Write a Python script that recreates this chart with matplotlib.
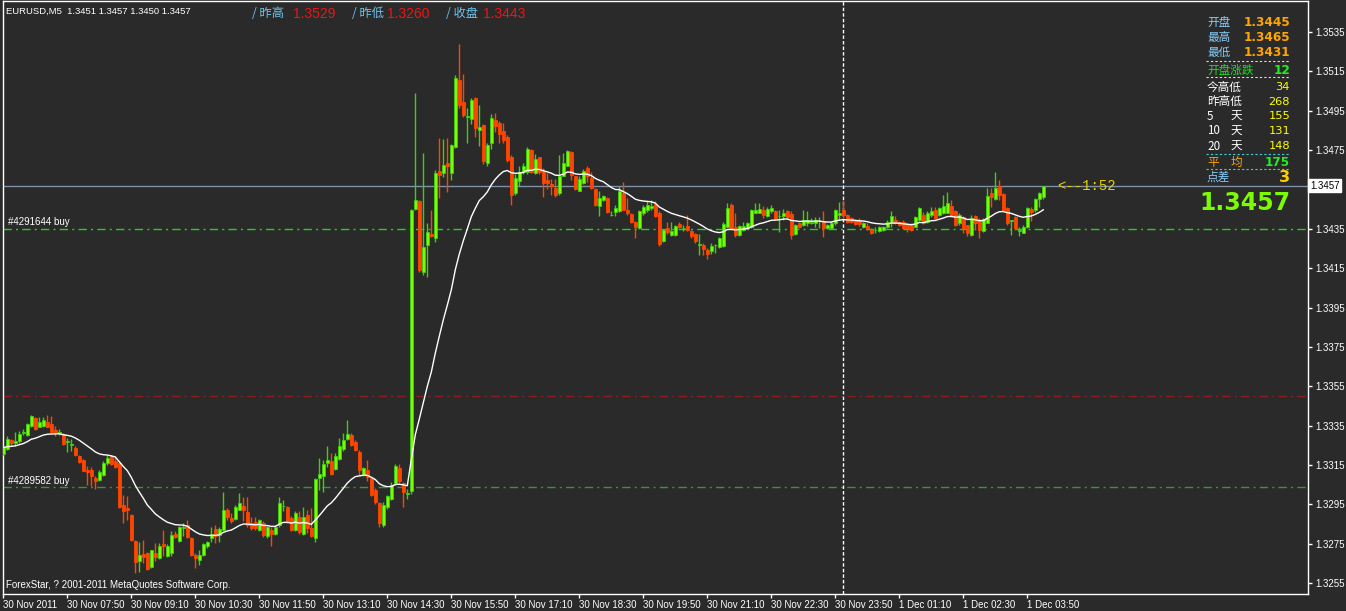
import numpy as np
import pandas as pd
import matplotlib
matplotlib.use('Agg')
import matplotlib.pyplot as plt
from matplotlib.lines import Line2D
from matplotlib.transforms import blended_transform_factory

# EURUSD M5 bars, 30 Nov 2011 06:30 .. 1 Dec 2011 04:10
opens = [
    1.33207, 1.33230, 1.33275, 1.33260, 1.33270, 1.33310, 1.33303, 1.33346, 1.33390, 1.33345,
    1.33349, 1.33369, 1.33359, 1.33329, 1.33313, 1.33307, 1.33268, 1.33253, 1.33236, 1.33197,
    1.33176, 1.33125, 1.33122, 1.33083, 1.33075, 1.33100, 1.33160, 1.33197, 1.33168, 1.33159,
    1.32948, 1.32930, 1.32897, 1.32762, 1.32660, 1.32699, 1.32702, 1.32631, 1.32705, 1.32677,
    1.32749, 1.32685, 1.32702, 1.32800, 1.32766, 1.32832, 1.32846, 1.32778, 1.32694, 1.32665,
    1.32694, 1.32736, 1.32778, 1.32826, 1.32795, 1.32817, 1.32922, 1.32883, 1.32875, 1.32922,
    1.32939, 1.32909, 1.32854, 1.32858, 1.32821, 1.32854, 1.32787, 1.32817, 1.32800, 1.32846,
    1.32941, 1.32936, 1.32880, 1.32817, 1.32888, 1.32800, 1.32897, 1.32829, 1.32778, 1.33083,
    1.33095, 1.33159, 1.33168, 1.33129, 1.33180, 1.33230, 1.33281, 1.33303, 1.33269, 1.33218,
    1.33100, 1.33125, 1.33083, 1.33024, 1.32959, 1.32846, 1.32936, 1.32976, 1.33058, 1.33134,
    1.33058, 1.33002, 1.33020, 1.34450, 1.34489, 1.34132, 1.34268, 1.34324, 1.34302, 1.34644,
    1.34633, 1.34684, 1.34634, 1.34765, 1.35107, 1.34996, 1.34918, 1.34907, 1.35014, 1.34852,
    1.34878, 1.34683, 1.34785, 1.34903, 1.34890, 1.34849, 1.34819, 1.34717, 1.34531, 1.34595,
    1.34641, 1.34641, 1.34748, 1.34633, 1.34714, 1.34645, 1.34599, 1.34579, 1.34557, 1.34531,
    1.34619, 1.34670, 1.34738, 1.34616, 1.34543, 1.34582, 1.34658, 1.34607, 1.34552, 1.34464,
    1.34494, 1.34509, 1.34420, 1.34433, 1.34438, 1.34531, 1.34447, 1.34426, 1.34387, 1.34354,
    1.34430, 1.34447, 1.34455, 1.34477, 1.34430, 1.34286, 1.34354, 1.34320, 1.34320, 1.34376,
    1.34353, 1.34362, 1.34337, 1.34325, 1.34270, 1.34269, 1.34240, 1.34235, 1.34269, 1.34256,
    1.34263, 1.34361, 1.34471, 1.34360, 1.34319, 1.34344, 1.34353, 1.34361, 1.34432, 1.34432,
    1.34443, 1.34416, 1.34438, 1.34438, 1.34414, 1.34416, 1.34438, 1.34426, 1.34324, 1.34378,
    1.34370, 1.34378, 1.34378, 1.34378, 1.34389, 1.34392, 1.34353, 1.34353, 1.34378, 1.34421,
    1.34446, 1.34421, 1.34404, 1.34395, 1.34390, 1.34361, 1.34366, 1.34344, 1.34342, 1.34341,
    1.34344, 1.34361, 1.34387, 1.34395, 1.34387, 1.34387, 1.34375, 1.34370, 1.34361, 1.34395,
    1.34421, 1.34387, 1.34421, 1.34446, 1.34421, 1.34429, 1.34432, 1.34466, 1.34438, 1.34378,
    1.34412, 1.34370, 1.34319, 1.34416, 1.34395, 1.34341, 1.34382, 1.34531, 1.34500, 1.34568,
    1.34527, 1.34455, 1.34391, 1.34409, 1.34340, 1.34331, 1.34361, 1.34450, 1.34446, 1.34500,
    1.34510,
]
highs = [
    1.33244, 1.33295, 1.33281, 1.33320, 1.33325, 1.33332, 1.33362, 1.33405, 1.33396, 1.33393,
    1.33393, 1.33405, 1.33400, 1.33346, 1.33332, 1.33312, 1.33285, 1.33280, 1.33244, 1.33202,
    1.33180, 1.33146, 1.33142, 1.33092, 1.33122, 1.33168, 1.33202, 1.33202, 1.33193, 1.33168,
    1.32998, 1.32990, 1.32902, 1.32770, 1.32760, 1.32770, 1.32710, 1.32720, 1.32753, 1.32753,
    1.32817, 1.32750, 1.32812, 1.32812, 1.32840, 1.32854, 1.32868, 1.32783, 1.32702, 1.32719,
    1.32753, 1.32766, 1.32837, 1.32846, 1.32837, 1.33015, 1.32930, 1.32905, 1.32947, 1.33007,
    1.32986, 1.32986, 1.32885, 1.32885, 1.32875, 1.32863, 1.32841, 1.32837, 1.32846, 1.32986,
    1.32970, 1.32942, 1.32892, 1.32914, 1.32914, 1.32936, 1.32922, 1.32931, 1.33083, 1.33185,
    1.33176, 1.33244, 1.33210, 1.33210, 1.33286, 1.33311, 1.33379, 1.33311, 1.33278, 1.33227,
    1.33142, 1.33176, 1.33091, 1.33032, 1.32964, 1.32964, 1.32998, 1.33061, 1.33156, 1.33156,
    1.33061, 1.33027, 1.34450, 1.35041, 1.34497, 1.34736, 1.34380, 1.34446, 1.34650, 1.34812,
    1.34807, 1.34810, 1.34780, 1.35133, 1.35290, 1.35137, 1.34964, 1.35016, 1.35022, 1.34980,
    1.34880, 1.34785, 1.34934, 1.34937, 1.34897, 1.34890, 1.34828, 1.34726, 1.34626, 1.34667,
    1.34683, 1.34765, 1.34755, 1.34731, 1.34717, 1.34660, 1.34632, 1.34602, 1.34602, 1.34726,
    1.34734, 1.34751, 1.34743, 1.34620, 1.34616, 1.34653, 1.34670, 1.34641, 1.34557, 1.34540,
    1.34523, 1.34514, 1.34438, 1.34472, 1.34565, 1.34590, 1.34506, 1.34430, 1.34392, 1.34447,
    1.34472, 1.34489, 1.34494, 1.34489, 1.34438, 1.34348, 1.34387, 1.34387, 1.34370, 1.34387,
    1.34370, 1.34421, 1.34345, 1.34328, 1.34325, 1.34277, 1.34252, 1.34277, 1.34272, 1.34310,
    1.34387, 1.34480, 1.34480, 1.34430, 1.34370, 1.34387, 1.34385, 1.34450, 1.34483, 1.34483,
    1.34466, 1.34460, 1.34471, 1.34443, 1.34446, 1.34450, 1.34446, 1.34438, 1.34375, 1.34385,
    1.34446, 1.34438, 1.34405, 1.34412, 1.34412, 1.34438, 1.34375, 1.34390, 1.34449, 1.34488,
    1.34497, 1.34425, 1.34410, 1.34400, 1.34404, 1.34387, 1.34378, 1.34353, 1.34361, 1.34365,
    1.34365, 1.34395, 1.34438, 1.34416, 1.34392, 1.34395, 1.34380, 1.34378, 1.34416, 1.34463,
    1.34435, 1.34438, 1.34463, 1.34463, 1.34463, 1.34522, 1.34539, 1.34497, 1.34446, 1.34429,
    1.34416, 1.34370, 1.34421, 1.34421, 1.34404, 1.34404, 1.34556, 1.34556, 1.34641, 1.34598,
    1.34531, 1.34463, 1.34395, 1.34416, 1.34361, 1.34370, 1.34463, 1.34460, 1.34505, 1.34539,
    1.34570,
]
lows = [
    1.33202, 1.33224, 1.33244, 1.33244, 1.33260, 1.33303, 1.33298, 1.33342, 1.33329, 1.33342,
    1.33345, 1.33342, 1.33315, 1.33295, 1.33303, 1.33252, 1.33215, 1.33220, 1.33197, 1.33160,
    1.33117, 1.33049, 1.33044, 1.33027, 1.33066, 1.33095, 1.33150, 1.33151, 1.33134, 1.32931,
    1.32855, 1.32872, 1.32762, 1.32600, 1.32605, 1.32650, 1.32617, 1.32626, 1.32660, 1.32672,
    1.32685, 1.32680, 1.32685, 1.32778, 1.32760, 1.32787, 1.32778, 1.32689, 1.32626, 1.32643,
    1.32685, 1.32730, 1.32756, 1.32753, 1.32761, 1.32812, 1.32871, 1.32854, 1.32871, 1.32919,
    1.32863, 1.32837, 1.32821, 1.32821, 1.32815, 1.32783, 1.32778, 1.32736, 1.32795, 1.32837,
    1.32914, 1.32854, 1.32812, 1.32812, 1.32800, 1.32795, 1.32804, 1.32783, 1.32761, 1.33024,
    1.33015, 1.33142, 1.33100, 1.33122, 1.33173, 1.33220, 1.33278, 1.33247, 1.33222, 1.33100,
    1.33095, 1.33066, 1.32990, 1.32953, 1.32834, 1.32834, 1.32925, 1.32970, 1.33049, 1.33058,
    1.32936, 1.32976, 1.33000, 1.34445, 1.34130, 1.34115, 1.34107, 1.34308, 1.34285, 1.34505,
    1.34614, 1.34538, 1.34600, 1.34760, 1.34964, 1.34920, 1.34785, 1.34885, 1.34816, 1.34771,
    1.34680, 1.34670, 1.34758, 1.34844, 1.34785, 1.34785, 1.34690, 1.34472, 1.34522, 1.34565,
    1.34629, 1.34626, 1.34632, 1.34626, 1.34630, 1.34514, 1.34550, 1.34523, 1.34514, 1.34523,
    1.34616, 1.34667, 1.34599, 1.34548, 1.34540, 1.34579, 1.34590, 1.34552, 1.34464, 1.34416,
    1.34489, 1.34430, 1.34413, 1.34413, 1.34433, 1.34443, 1.34421, 1.34382, 1.34303, 1.34348,
    1.34421, 1.34433, 1.34447, 1.34409, 1.34264, 1.34281, 1.34325, 1.34315, 1.34315, 1.34354,
    1.34337, 1.34337, 1.34303, 1.34277, 1.34218, 1.34218, 1.34196, 1.34223, 1.34227, 1.34250,
    1.34256, 1.34358, 1.34344, 1.34310, 1.34315, 1.34340, 1.34348, 1.34355, 1.34429, 1.34429,
    1.34404, 1.34410, 1.34429, 1.34395, 1.34336, 1.34395, 1.34404, 1.34299, 1.34320, 1.34356,
    1.34366, 1.34365, 1.34372, 1.34361, 1.34353, 1.34307, 1.34348, 1.34348, 1.34370, 1.34395,
    1.34404, 1.34382, 1.34378, 1.34368, 1.34365, 1.34353, 1.34344, 1.34324, 1.34331, 1.34336,
    1.34338, 1.34355, 1.34361, 1.34372, 1.34365, 1.34348, 1.34336, 1.34338, 1.34358, 1.34392,
    1.34372, 1.34382, 1.34412, 1.34399, 1.34416, 1.34426, 1.34429, 1.34412, 1.34365, 1.34370,
    1.34331, 1.34311, 1.34314, 1.34344, 1.34302, 1.34336, 1.34378, 1.34463, 1.34497, 1.34497,
    1.34438, 1.34370, 1.34319, 1.34344, 1.34311, 1.34328, 1.34353, 1.34392, 1.34433, 1.34463,
    1.34500,
]
closes = [
    1.33239, 1.33280, 1.33261, 1.33270, 1.33308, 1.33315, 1.33359, 1.33400, 1.33332, 1.33369,
    1.33379, 1.33345, 1.33320, 1.33312, 1.33317, 1.33256, 1.33271, 1.33256, 1.33202, 1.33163,
    1.33120, 1.33112, 1.33095, 1.33066, 1.33114, 1.33160, 1.33185, 1.33156, 1.33139, 1.32936,
    1.32914, 1.32919, 1.32767, 1.32655, 1.32690, 1.32682, 1.32621, 1.32716, 1.32682, 1.32739,
    1.32736, 1.32739, 1.32795, 1.32783, 1.32834, 1.32835, 1.32783, 1.32694, 1.32677, 1.32694,
    1.32749, 1.32761, 1.32800, 1.32790, 1.32824, 1.32922, 1.32885, 1.32863, 1.32936, 1.32956,
    1.32922, 1.32846, 1.32829, 1.32829, 1.32868, 1.32795, 1.32834, 1.32800, 1.32837, 1.32956,
    1.32944, 1.32858, 1.32821, 1.32905, 1.32807, 1.32885, 1.32829, 1.32787, 1.33078, 1.33105,
    1.33156, 1.33176, 1.33105, 1.33196, 1.33247, 1.33278, 1.33308, 1.33252, 1.33227, 1.33125,
    1.33134, 1.33091, 1.32998, 1.32964, 1.32854, 1.32947, 1.32993, 1.33049, 1.33146, 1.33066,
    1.33015, 1.33005, 1.34446, 1.34497, 1.34141, 1.34257, 1.34336, 1.34312, 1.34633, 1.34624,
    1.34675, 1.34669, 1.34776, 1.35115, 1.34980, 1.34929, 1.34921, 1.35002, 1.34861, 1.34869,
    1.34692, 1.34776, 1.34912, 1.34873, 1.34832, 1.34802, 1.34700, 1.34522, 1.34609, 1.34641,
    1.34670, 1.34755, 1.34641, 1.34704, 1.34641, 1.34585, 1.34585, 1.34569, 1.34523, 1.34616,
    1.34684, 1.34743, 1.34624, 1.34552, 1.34602, 1.34646, 1.34616, 1.34557, 1.34472, 1.34506,
    1.34518, 1.34433, 1.34422, 1.34455, 1.34540, 1.34447, 1.34430, 1.34387, 1.34359, 1.34438,
    1.34460, 1.34472, 1.34467, 1.34416, 1.34274, 1.34345, 1.34332, 1.34337, 1.34362, 1.34359,
    1.34356, 1.34342, 1.34311, 1.34286, 1.34273, 1.34247, 1.34223, 1.34261, 1.34270, 1.34302,
    1.34375, 1.34455, 1.34353, 1.34320, 1.34365, 1.34365, 1.34378, 1.34446, 1.34446, 1.34449,
    1.34421, 1.34450, 1.34455, 1.34399, 1.34416, 1.34429, 1.34409, 1.34319, 1.34370, 1.34361,
    1.34395, 1.34395, 1.34387, 1.34395, 1.34391, 1.34353, 1.34370, 1.34382, 1.34446, 1.34430,
    1.34421, 1.34387, 1.34383, 1.34375, 1.34373, 1.34378, 1.34356, 1.34328, 1.34345, 1.34358,
    1.34358, 1.34387, 1.34416, 1.34378, 1.34370, 1.34353, 1.34353, 1.34344, 1.34409, 1.34455,
    1.34378, 1.34429, 1.34438, 1.34404, 1.34455, 1.34466, 1.34483, 1.34421, 1.34370, 1.34421,
    1.34353, 1.34328, 1.34404, 1.34378, 1.34344, 1.34399, 1.34517, 1.34514, 1.34556, 1.34522,
    1.34446, 1.34378, 1.34393, 1.34353, 1.34342, 1.34361, 1.34455, 1.34436, 1.34500, 1.34531,
    1.34570,
]

ma_period = 20
bid = 1.3457
day_start_bar = 210  # 1 Dec 00:00
order_lines = [('#4291644 buy', 1.3435, '#1ed21e'), ('#4289582 buy', 1.3304, '#3f8f3f')]
stop_level = 1.3350

tick_bars = [0, 16, 32, 48, 64, 80, 96, 112, 128, 144, 160, 176, 192, 208, 224, 240, 256]
tick_labels = ['30 Nov 2011', '30 Nov 07:50', '30 Nov 09:10', '30 Nov 10:30', '30 Nov 11:50',
               '30 Nov 13:10', '30 Nov 14:30', '30 Nov 15:50', '30 Nov 17:10', '30 Nov 18:30',
               '30 Nov 19:50', '30 Nov 21:10', '30 Nov 22:30', '30 Nov 23:50', '1 Dec 01:10',
               '1 Dec 02:30', '1 Dec 03:50']
price_ticks = np.round(np.arange(1.3255, 1.35351, 0.002), 4)

header_items = [('/ 昨高', '1.3529'), ('/ 昨低', '1.3260'), ('/ 收盘', '1.3443')]
day_items = [('开盘', '1.3445'), ('最高', '1.3465'), ('最低', '1.3431')]
open_change = ('开盘涨跌', '12')
range_items = [('今高低', '', '34'), ('昨高低', '', '268'), ('5', '天', '155'),
               ('10', '天', '131'), ('20', '天', '148')]
avg_item = ('平', '均', '175')
spread_item = ('点差', '3')

BG = '#2a2a2a'
BULL_FILL = '#7cfc00'
BULL_LINE = '#3ccf14'
BEAR = '#ff4500'
W, H = 1346, 611
CJK = ['Noto Sans CJK SC', 'DejaVu Sans']
plt.rcParams['font.family'] = ['Liberation Sans', 'DejaVu Sans']

o = np.array(opens); h = np.array(highs); l = np.array(lows); c = np.array(closes)
idx = np.arange(len(c))
up = c >= o
ma = pd.Series(c).ewm(span=ma_period, adjust=False).mean()

fig = plt.figure(figsize=(W / 100, H / 100), dpi=100, facecolor=BG)
ax = fig.add_axes([2.5 / W, (H - 594) / H, (1308 - 2.5) / W, (594 - 1) / H], facecolor=BG)

# wicks and bodies
ax.vlines(idx, l, h, colors=np.where(up, BULL_LINE, BEAR), linewidth=1, zorder=3)
ax.bar(idx, np.maximum(np.abs(c - o), 0.00001), bottom=np.minimum(o, c), width=0.72,
       color=np.where(up, BULL_FILL, BEAR), edgecolor=np.where(up, BULL_LINE, BEAR),
       linewidth=0.6, zorder=4)
ax.plot(idx, ma, color='white', linewidth=1, zorder=5)

ax.axhline(bid, color='#7f90a8', linewidth=1, zorder=2)
for name, lvl, col in order_lines:
    ax.axhline(lvl, color=col, linewidth=1, linestyle=(0, (6, 3, 1.5, 3)), zorder=2)
ax.axhline(stop_level, color='#8e1c1c', linewidth=1, linestyle=(0, (6, 3, 1.5, 3)), zorder=2)
ax.axvline(day_start_bar, color='white', linewidth=1, linestyle=(0, (2.5, 1.5)), zorder=2)

# pixel layout of the MT4 window
ax.set_xlim((2.5 - 3.3) / 4, (1308 - 3.3) / 4)
ax.set_ylim(1.3535 - (594 - 32) / 19680, 1.3535 + (32 - 1) / 19680)

for s in ax.spines.values():
    s.set_color('white')
    s.set_linewidth(1)
ax.yaxis.tick_right()
ax.set_yticks(price_ticks)
# the bid price box covers the 1.3455 label
ax.set_yticklabels(['' if abs(p - bid) < 0.0005 else f'{p:.4f}' for p in price_ticks])
ax.set_xticks(tick_bars)
ax.set_xticklabels(tick_labels)
for lab in ax.get_xticklabels():
    lab.set_ha('left')
ax.tick_params(axis='both', colors='white', direction='out', length=3, width=1, labelsize=7)
ax.tick_params(axis='x', pad=1.5)
ax.tick_params(axis='y', pad=2)

tr = blended_transform_factory(ax.transAxes, ax.transData)
ax.text(1.0015, bid, f'{bid:.4f}', transform=tr, ha='left', va='center', fontsize=7, color='black',
        bbox=dict(boxstyle='square,pad=0.18', fc='white', ec='white'), clip_on=False, zorder=10)
ax.text(263.4, bid, '<--1:52', ha='left', va='center', fontsize=10, color='#e8d400',
        family='Liberation Mono', zorder=6)


def ftext(x, y, s, **kw):
    fig.text(x / W, 1 - y / H, s, va='center', **kw)


ftext(6, 11, 'EURUSD,M5  1.3451 1.3457 1.3450 1.3457', color='white', fontsize=6.8)
for (lab, val), (xl, xv) in zip(header_items, [(252, 293), (352, 387), (446, 483)]):
    ftext(xl, 13.5, lab, color='#70c4ec', fontsize=8.8, family=CJK)
    ftext(xv, 13.5, val, color='#f01414', fontsize=10)

for (name, lvl, col), y in zip(order_lines, [222, 481]):
    ftext(8, y, name, color='white', fontsize=7)
ftext(6, 585, 'ForexStar, ? 2001-2011 MetaQuotes Software Corp.', color='white', fontsize=7)

# info panel
LX, VX = 1207, 1290
for (lab, val), y in zip(day_items, [22.7, 37.3, 52.3]):
    ftext(LX, y, lab, color='#87cefa', fontsize=8.4, family=CJK)
    ftext(VX, y, val, color='#ffa500', fontsize=8.7, family='DejaVu Sans', weight='bold', ha='right')
ftext(LX, 70, open_change[0], color='#22dd22', fontsize=8.4, family=CJK)
ftext(VX, 70, open_change[1], color='#22ee22', fontsize=8.7, family='DejaVu Sans', weight='bold', ha='right')
for (a, b, val), y in zip(range_items, [87, 101.7, 116, 131, 146]):
    ftext(LX, y, a, color='white', fontsize=8.4, family=CJK)
    if b:
        ftext(1231, y, b, color='white', fontsize=8.4, family=CJK)
    ftext(VX, y, val, color='#ffff00', fontsize=8.2, family='DejaVu Sans', ha='right')
ftext(LX, 162.3, avg_item[0], color='#ffa500', fontsize=8.4, family=CJK)
ftext(1231, 162.3, avg_item[1], color='#ffa500', fontsize=8.4, family=CJK)
ftext(VX, 162.3, avg_item[2], color='#22ee22', fontsize=8.7, family='DejaVu Sans', weight='bold', ha='right')
ftext(LX, 177.7, spread_item[0], color='#87cefa', fontsize=8.4, family=CJK)
ftext(VX, 177.7, spread_item[1], color='#ffcc00', fontsize=11.5, family='DejaVu Sans', weight='bold', ha='right')
ftext(VX, 203, f'{bid:.4f}', color='#7cfc00', fontsize=17, family='DejaVu Sans', weight='bold', ha='right')

for y, col in [(61, '#f5deb3'), (77.3, '#f5deb3'), (154.3, '#40d0d0'), (169.3, '#40d0d0')]:
    fig.add_artist(Line2D([1206 / W, 1290 / W], [1 - y / H, 1 - y / H], color=col,
                          linewidth=0.8, linestyle=(0, (2, 2))))

fig.savefig('out.png', dpi=100, facecolor=BG)
